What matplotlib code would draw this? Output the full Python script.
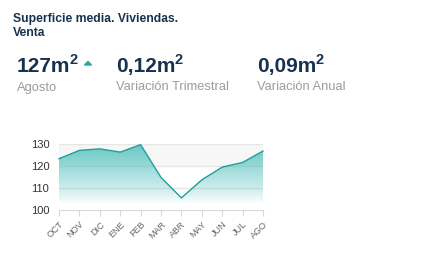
import matplotlib.pyplot as plt
import numpy as np
from matplotlib.patches import Polygon

# datos
meses = ['OCT', 'NOV', 'DIC', 'ENE', 'FEB', 'MAR', 'ABR', 'MAY', 'JUN', 'JUL', 'AGO']
superficie = [123.3, 127.1, 127.8, 126.3, 129.7, 114.8, 105.5, 113.7, 119.5, 121.6, 126.8]
yticks = [100, 110, 120, 130]

titulo = ['Superficie media. Viviendas.', 'Venta']
valores = ['127', '0,12', '0,09']
etiquetas = ['Agosto', 'Variación Trimestral', 'Variación Anual']

plt.rcParams['font.family'] = ['Liberation Sans', 'DejaVu Sans']

W, H = 437, 278
fig = plt.figure(figsize=(W / 100, H / 100), dpi=100)

def fx(x):
    return x / W

def fy(y):
    return 1 - y / H

navy = '#17324f'
teal = '#1f9e9a'
gris = '#9b9b9b'

# cabecera
fig.text(fx(13), fy(22.5), titulo[0], fontsize=8.7, fontweight='bold', color=navy)
fig.text(fx(13), fy(36.5), titulo[1], fontsize=8.7, fontweight='bold', color=navy)

r = fig.canvas.get_renderer()
for xpos, val, lab in zip([17, 116, 257], valores, etiquetas):
    t = fig.text(fx(xpos), fy(72), val + 'm', fontsize=15, fontweight='bold', color=navy)
    bb = t.get_window_extent(r)
    fig.text((bb.x1 - 0.5) / W, fy(64.5), '2', fontsize=10.5, fontweight='bold', color=navy)
    fig.text(fx(xpos), fy(90.5), lab, fontsize=9.3, color=gris)

# flecha de subida
fig.patches.append(Polygon([(fx(84.5), fy(65)), (fx(91.5), fy(65)), (fx(88), fy(61.5))],
                           closed=True, color='#26a8a3', transform=fig.transFigure))

# grafico
ax = fig.add_axes([fx(59), fy(210), (263 - 59) / W, (210 - 144) / H])
x = np.arange(len(meses))
ax.set_xlim(0, len(meses) - 1)
ax.set_ylim(yticks[0], yticks[-1])

ax.axhspan(120, 130, color='#f7f7f7', zorder=0, lw=0)
for v in yticks[1:]:
    ax.axhline(v, color='#e6e6e6', lw=1, zorder=1)

# relleno con degradado
ys = np.linspace(yticks[-1], yticks[0], 300)
alpha = np.clip((ys - 103) / (max(superficie) - 103), 0, 1) ** 0.8 * 0.8
img = np.zeros((len(ys), 2, 4))
img[:, :, 0] = 0x4a / 255
img[:, :, 1] = 0xbe / 255
img[:, :, 2] = 0xba / 255
img[:, :, 3] = alpha[:, None]
verts = [(x[0], yticks[0])] + list(zip(x, superficie)) + [(x[-1], yticks[0])]
clip = Polygon(verts, closed=True, facecolor='none', edgecolor='none')
ax.add_patch(clip)
im = ax.imshow(img, extent=[x[0], x[-1], yticks[0], yticks[-1]], aspect='auto', zorder=2)
im.set_clip_path(clip)

ax.plot(x, superficie, color=teal, lw=1, zorder=3, clip_on=False)

for s in ['top', 'right', 'left']:
    ax.spines[s].set_visible(False)
ax.spines['bottom'].set_color('#d8d8d8')
ax.spines['bottom'].set_zorder(4)

ax.set_yticks(yticks)
ax.tick_params(axis='y', length=0, pad=7, labelsize=8, labelcolor='#333333')
ax.set_xticks(x)
ax.set_xticklabels(meses, rotation=45, ha='right', rotation_mode='anchor')
ax.tick_params(axis='x', length=4, color='#d8d8d8', pad=3, labelsize=6.5, labelcolor='#666666')

fig.savefig('out.png', dpi=100)
